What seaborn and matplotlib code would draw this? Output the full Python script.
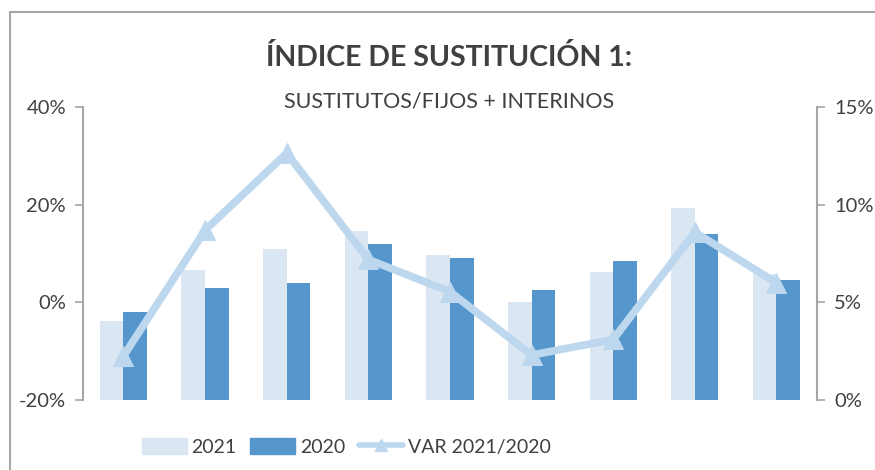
import numpy as np
import pandas as pd
import seaborn as sns
import matplotlib.pyplot as plt
from matplotlib.lines import Line2D
from matplotlib.ticker import FuncFormatter

# 1. Data

grupos = ["G1", "G2", "G3", "G4", "G5", "G6", "G7", "G8", "G9"]
valores_2021 = [-3.9, 6.6, 10.9, 14.6, 9.7, 0.0, 6.3, 19.3, 5.8]
valores_2020 = [-1.9, 3.0, 3.9, 11.9, 9.1, 2.5, 8.5, 14.1, 4.6]
var_2021_2020 = [2.25, 8.7, 12.65, 7.2, 5.55, 2.3, 3.1, 8.6, 6.0]
ticks_izq = [-20, 0, 20, 40]
ticks_der = [0, 5, 10, 15]

# 2. Style

sns.set_theme(style="white")
plt.rcParams["font.family"] = ["Lato", "DejaVu Sans"]

c_2021 = "#dbe6f3"
c_2020 = "#5596cd"
c_var = "#bdd7ee"
c_axis = "#a6a6a6"
c_text = "#404040"

df = pd.DataFrame({
    "grupo": grupos * 2,
    "valor": valores_2021 + valores_2020,
    "serie": ["2021"] * len(grupos) + ["2020"] * len(grupos),
})

fig = plt.figure(figsize=(8.75, 4.7), dpi=100)
ax = fig.add_axes([0.0945, 0.149, 0.8395, 0.6227])

# 3. Bars (left axis)

sns.barplot(data=df, x="grupo", y="valor", hue="serie", hue_order=["2021", "2020"],
            palette=[c_2021, c_2020], width=0.58, saturation=1, ax=ax, legend=False)

# bars start at the axis floor (-20%), like the original
for p in ax.patches:
    h = p.get_y() + p.get_height() if p.get_height() < 0 else p.get_height()
    p.set_y(ticks_izq[0])
    p.set_height(h - ticks_izq[0])
    p.set_linewidth(0)

ax.set_ylim(ticks_izq[0], ticks_izq[-1])
ax.set_yticks(ticks_izq)
ax.yaxis.set_major_formatter(FuncFormatter(lambda v, _: f"{v:.0f}%"))
ax.set_xlim(-0.5, 8.5)
ax.set_xticks([])
ax.set_xlabel("")
ax.set_ylabel("")

# 4. Line (right axis)

ax2 = ax.twinx()
sns.lineplot(x=list(range(len(grupos))), y=var_2021_2020, ax=ax2, color=c_var,
             linewidth=5.5, marker="^", markersize=14, markeredgecolor=c_var)
ax2.set_ylim(ticks_der[0], ticks_der[-1])
ax2.set_yticks(ticks_der)
ax2.yaxis.set_major_formatter(FuncFormatter(lambda v, _: f"{v:.0f}%"))
ax2.set_ylabel("")

for a in (ax, ax2):
    for s in ["top", "bottom"]:
        a.spines[s].set_visible(False)
    a.tick_params(axis="y", length=6, width=1.2, color=c_axis, labelsize=14.5,
                  labelcolor=c_text, pad=6, direction="out")
ax.spines["right"].set_visible(False)
ax.spines["left"].set_color(c_axis)
ax.spines["left"].set_linewidth(1.5)
ax2.spines["left"].set_visible(False)
ax2.spines["right"].set_color(c_axis)
ax2.spines["right"].set_linewidth(1.5)
ax.tick_params(axis="y", left=True)
ax2.tick_params(axis="y", right=True)

# 5. Titles, legend, frame

fig.text(0.513, 0.877, "ÍNDICE DE SUSTITUCIÓN 1:", ha="center", va="center",
         fontsize=20.5, fontweight="bold", color=c_text)
fig.text(0.513, 0.785, "SUSTITUTOS/FIJOS + INTERINOS", ha="center", va="center",
         fontsize=15.5, color=c_text)

handles = [
    plt.Rectangle((0, 0), 1, 1, color=c_2021),
    plt.Rectangle((0, 0), 1, 1, color=c_2020),
    Line2D([0], [0], color=c_var, linewidth=4, marker="^", markersize=9),
]
fig.legend(handles, ["2021", "2020", "VAR 2021/2020"], loc="center",
           bbox_to_anchor=(0.396, 0.049), ncol=3, frameon=False, fontsize=14,
           handlelength=2.3, handleheight=0.9, handletextpad=0.25, columnspacing=0.7,
           labelcolor=c_text)

fig.add_artist(Line2D([10 / 875, 1], [1 - 12 / 470, 1 - 12 / 470], color=c_axis, linewidth=1.5))
fig.add_artist(Line2D([10 / 875, 10 / 875], [0, 1 - 12 / 470], color=c_axis, linewidth=1.5))

fig.savefig("out.png", dpi=100)
